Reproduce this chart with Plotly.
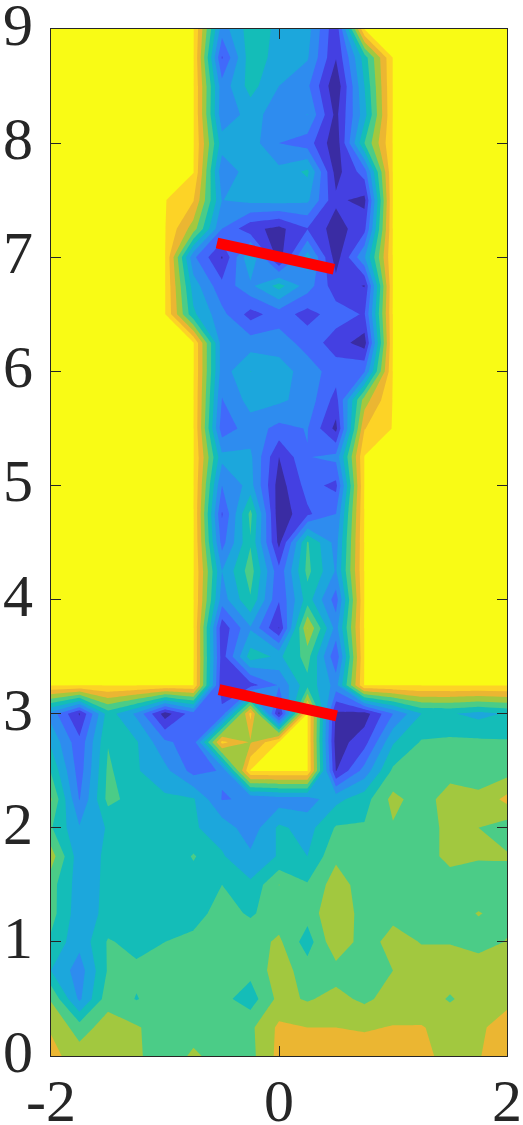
import plotly.graph_objects as go

Y = 10.05
x_vals = [-2, -1.75, -1.5, -1.25, -1, -0.75, -0.5, -0.25, 0, 0.25, 0.5, 0.75, 1, 1.25, 1.5, 1.75, 2]
y_vals = [0, 0.25, 0.5, 0.75, 1, 1.25, 1.5, 1.75, 2, 2.25, 2.5, 2.75, 3, 3.25, 3.5, 3.75, 4, 4.25, 4.5, 4.75, 5,
          5.25, 5.5, 5.75, 6, 6.25, 6.5, 6.75, 7, 7.25, 7.5, 7.75, 8, 8.25, 8.5, 8.75, 9]
z_rows = [
    [8.3,7.5,7.5,7.2,6.3,7.2,6.5,6.7,8.3,8.5,8.5,8.5,8.5,8.4,7.5,7.9,8.9],
    [7.9,6.5,7.5,7.1,6.5,6.5,6.3,6.8,8.2,8.0,8.0,7.9,8.05,8.05,7.7,7.8,8.5],
    [6.9,3.8,6.6,5.95,6.5,6.5,6.3,5.5,7.3,6.9,7.3,6.8,7.4,7.5,6.9,7.5,7.7],
    [5.0,3.5,6.1,6.2,6.5,6.5,6.4,6.3,7.5,6.5,6.6,6.5,7.0,7.5,7.5,7.6,7.6],
    [5.8,4.3,6.1,5.7,6.0,6.2,6.4,6.5,7.2,5.5,7.8,6.5,7.4,6.95,6.95,6.6,7.05],
    [6.4,4.4,5.3,5.5,5.5,5.7,6.3,5.9,6.4,6.4,7.9,6.5,6.7,6.6,6.6,7.05,6.7],
    [6.4,4.5,5.2,5.2,5.3,5.5,6.0,5.2,7.02,6.1,7.5,6.5,6.6,6.5,6.5,6.4,6.5],
    [7.5,4.4,5.2,5.1,5.1,6.1,5.1,4.2,5.1,5.0,6.8,6.4,6.5,6.5,7.3,7.1,7.1],
    [6.1,4.1,5.1,5.1,5.1,5.1,4.6,3.4,5.2,4.6,6.1,6.1,6.9,6.5,7.3,7.0,6.5],
    [7.1,2.95,6.3,5.6,5.2,5.1,2.95,3.1,3.5,3.5,4.7,5.6,7.3,6.5,7.5,7.2,8.3],
    [5.9,2.5,6.2,5.1,4.3,2.6,3.1,Y,Y,Y,0.95,3.4,6.2,6.5,6.6,6.6,6.6],
    [4.8,2.3,5.95,5.1,3.2,2.5,9.3,7.9,Y,Y,0.5,1.6,4.9,6.1,6.2,6.2,6.1],
    [3.6,0.9,5.5,3.8,0.5,2.6,2.4,9.3,0.8,Y,0.8,0.5,3.0,5.0,5.1,4.7,5.1],
    [Y,Y,Y,Y,Y,Y,1.2,1.6,3.1,5.7,3.6,Y,Y,Y,Y,Y,Y],
    [Y,Y,Y,Y,Y,Y,1.5,5.5,4.8,6.4,2.2,Y,Y,Y,Y,Y,Y],
    [Y,Y,Y,Y,Y,Y,1.3,3.9,0.95,8.05,3.6,Y,Y,Y,Y,Y,Y],
    [Y,Y,Y,Y,Y,Y,3.5,5.9,2.1,5.5,2.5,Y,Y,Y,Y,Y,Y],
    [Y,Y,Y,Y,Y,Y,4.0,6.5,2.3,6.3,3.9,Y,Y,Y,Y,Y,Y],
    [Y,Y,Y,Y,Y,Y,2.6,5.9,0.7,6.1,3.6,Y,Y,Y,Y,Y,Y],
    [Y,Y,Y,Y,Y,Y,1.9,6.3,0.3,1.8,3.0,Y,Y,Y,Y,Y,Y],
    [Y,Y,Y,Y,Y,Y,3.0,4.4,0.5,2.4,1.7,Y,Y,Y,Y,Y,Y],
    [Y,Y,Y,Y,Y,Y,4.3,4.2,1.0,2.95,3.3,Y,Y,Y,Y,Y,Y],
    [Y,Y,Y,Y,Y,Y,2.4,3.5,2.7,3.05,0.7,8.95,Y,Y,Y,Y,Y],
    [Y,Y,Y,Y,Y,Y,2.95,4.4,4.2,3.6,1.6,7.5,Y,Y,Y,Y,Y],
    [Y,Y,Y,Y,Y,Y,3.5,5.02,4.5,3.5,2.5,2.9,Y,Y,Y,Y,Y],
    [Y,Y,Y,Y,Y,Y,3.5,3.5,3.5,2.6,1.5,0.5,Y,Y,Y,Y,Y],
    [Y,Y,Y,Y,Y,5.2,3.3,1.6,2.5,1.6,2.5,1.9,Y,Y,Y,Y,Y],
    [Y,Y,Y,Y,Y,4.5,2.3,3.8,5.4,3.5,1.4,0.95,Y,Y,Y,Y,Y],
    [Y,Y,Y,Y,Y,3.2,0.9,5.0,0.5,4.5,0.5,3.9,Y,Y,Y,Y,Y],
    [Y,Y,Y,Y,Y,7.5,3.0,1.3,0.7,1.95,0.5,1.7,Y,Y,Y,Y,Y],
    [Y,Y,Y,Y,Y,9.05,3.98,4.3,4.4,4.2,1.2,0.7,Y,Y,Y,Y,Y],
    [Y,Y,Y,Y,Y,Y,3.3,4.5,4.3,5.2,0.6,2.5,Y,Y,Y,Y,Y],
    [Y,Y,Y,Y,Y,Y,4.5,4.5,3.0,2.5,0.3,6.0,Y,Y,Y,Y,Y],
    [Y,Y,Y,Y,Y,Y,3.3,4.4,3.5,4.02,0.7,4.6,Y,Y,Y,Y,Y],
    [Y,Y,Y,Y,Y,Y,3.4,5.4,4.0,3.2,0.2,5.0,Y,Y,Y,Y,Y],
    [Y,Y,Y,Y,Y,Y,1.9,5.6,4.6,4.1,1.05,5.5,Y,Y,Y,Y,Y],
    [Y,Y,Y,Y,Y,Y,3.5,5.5,4.8,4.4,1.2,Y,Y,Y,Y,Y,Y],
]
band_colors = ["#3a2ca3", "#4440e2", "#4169fb", "#2e8cef", "#1ca7dc", "#14bdb8",
               "#4bcc87", "#a2c83f", "#ebb632", "#fdd326", "#f9fb15"]
bar_lower_x = [-0.526, 0.506]
bar_lower_y = [3.21, 2.98]
bar_upper_x = [-0.544, 0.482]
bar_upper_y = [7.125, 6.895]
x_ticks = [-2, 0, 2]
x_labels = ["-2", "0", "2"]
y_ticks = [0, 1, 2, 3, 4, 5, 6, 7, 8, 9]
y_labels = ["0", "1", "2", "3", "4", "5", "6", "7", "8", "9"]

label_font = dict(family="Liberation Serif", size=60, color="#262626")
scale = [[i / (len(band_colors) - 1), c] for i, c in enumerate(band_colors)]
fig = go.Figure()
fig.add_trace(go.Contour(
    x=x_vals, y=y_vals, z=z_rows, colorscale=scale, showscale=False,
    autocontour=False, contours=dict(start=1, end=10, size=1, coloring="fill", showlines=False),
    line=dict(width=0, smoothing=0), hoverinfo="skip",
))
for bx, by in ((bar_lower_x, bar_lower_y), (bar_upper_x, bar_upper_y)):
    fig.add_trace(go.Scatter(x=bx, y=by, mode="lines", line=dict(color="#ff0000", width=11),
                             showlegend=False, hoverinfo="skip"))

axis_style = dict(showgrid=False, zeroline=False, showline=True, linecolor="#262626", linewidth=1,
                  mirror="ticks", ticks="inside", ticklen=10, tickwidth=1, tickcolor="#262626",
                  automargin=False, tickfont=label_font)
fig.update_xaxes(range=[-2, 2], tickmode="array", tickvals=x_ticks, ticktext=x_labels,
                 ticklabelstandoff=-8, **axis_style)
fig.update_yaxes(range=[0, 9.0005], tickmode="array", tickvals=y_ticks, showticklabels=False, **axis_style)
for v, t in zip(y_ticks, y_labels):
    fig.add_annotation(x=0, xref="paper", xanchor="right", xshift=-16, y=v, yref="y", yanchor="middle",
                       yshift=4, text=t, showarrow=False, font=label_font)
fig.update_layout(width=523, height=1125, autosize=False, showlegend=False,
                  margin=dict(l=51, r=16, t=29, b=69), paper_bgcolor="white", plot_bgcolor="white")
fig.write_html("out.html", config=dict(displayModeBar=False), post_script="document.body.style.margin='0';")
